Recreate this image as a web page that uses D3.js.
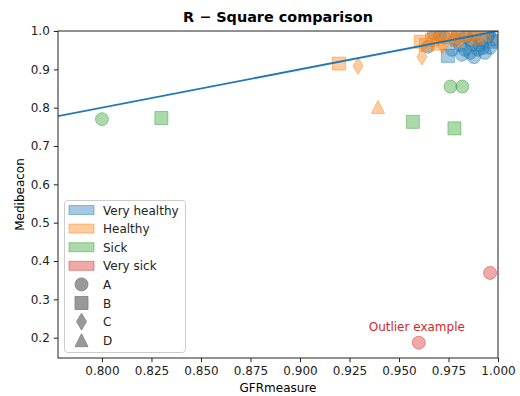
<!DOCTYPE html>
<html>
<head>
<meta charset="utf-8">
<script src="https://cdn.jsdelivr.net/npm/d3@7"></script>
<style>
  body { margin: 0; background: #fff; }
  svg text { font-family: "DejaVu Sans", sans-serif; }
</style>
</head>
<body>
<div id="chart"></div>
<script>
// categories
const groups = ['Very healthy', 'Healthy', 'Sick', 'Very sick'];
const groupColors = ['#1f77b4', '#ff7f0e', '#2ca02c', '#d62728'];
const shapes = ['A', 'B', 'C', 'D'];

// points per group: [GFRmeasure, Medibeacon, shape]
const veryHealthy = [
  [0.9646, 0.959, 'A'], [0.9707, 0.988, 'A'], [0.9783, 0.977, 'A'], [0.9808, 0.964, 'A'],
  [0.9833, 0.951, 'A'], [0.9859, 0.943, 'A'], [0.9869, 0.964, 'A'], [0.9899, 0.951, 'A'],
  [0.9919, 0.977, 'A'], [0.9934, 0.943, 'A'], [0.9960, 0.956, 'A'], [0.9975, 0.977, 'A'],
  [0.9798, 0.996, 'A'], [0.9884, 0.990, 'A'], [0.9838, 0.985, 'A'], [0.9909, 0.964, 'A'],
  [0.9949, 0.988, 'A'], [0.9818, 0.938, 'A'], [0.9859, 0.977, 'A'], [0.9924, 0.956, 'A'],
  [0.9879, 0.932, 'A'], [0.9768, 0.951, 'A'], [0.9732, 0.982, 'A'], [0.9677, 0.993, 'A'],
  [0.9747, 0.935, 'B'], [0.9980, 0.972, 'B'], [0.9965, 0.990, 'C']
];
const healthy = [
  [0.9197, 0.915, 'B'], [0.9610, 0.972, 'B'], [0.9636, 0.964, 'B'], [0.9667, 0.977, 'B'],
  [0.9697, 0.967, 'B'], [0.9722, 0.985, 'B'], [0.9758, 0.988, 'B'], [0.9793, 0.977, 'B'],
  [0.9823, 0.988, 'B'], [0.9859, 0.993, 'B'], [0.9894, 0.982, 'B'], [0.9929, 0.990, 'B'],
  [0.9293, 0.909, 'C'], [0.9616, 0.933, 'C'], [0.9720, 0.962, 'C'],
  [0.9394, 0.802, 'D'], [0.9780, 0.990, 'D'], [0.9680, 0.985, 'A']
];
const sick = [
  [0.800, 0.770, 'A'], [0.976, 0.855, 'A'], [0.982, 0.855, 'A'],
  [0.830, 0.773, 'B'], [0.957, 0.763, 'B'], [0.978, 0.746, 'B']
];
const verySick = [
  [0.960, 0.187, 'A'], [0.996, 0.369, 'A']
];
const seriesData = [veryHealthy, healthy, sick, verySick];

// reference line y = x
const refLineX = [0.7, 1.0];
const refLineY = [0.7, 1.0];

const xTicks = [0.800, 0.825, 0.850, 0.875, 0.900, 0.925, 0.950, 0.975, 1.000];
const yTicks = [0.2, 0.3, 0.4, 0.5, 0.6, 0.7, 0.8, 0.9, 1.0];
const annotation = { text: 'Outlier example', x: 0.959, y: 0.218 };

const width = 520, height = 396;
const margin = { top: 31, right: 22, bottom: 38, left: 58 };
const innerW = width - margin.left - margin.right;
const innerH = height - margin.top - margin.bottom;

const svg = d3.select('#chart').append('svg')
  .attr('width', width)
  .attr('height', height);

const x = d3.scaleLinear().domain([0.7778, 1.0]).range([0, innerW]);
const y = d3.scaleLinear().domain([0.147, 1.0]).range([innerH, 0]);

const g = svg.append('g').attr('transform', `translate(${margin.left},${margin.top})`);

g.append('clipPath').attr('id', 'clip')
  .append('rect').attr('width', innerW).attr('height', innerH);

// marker paths
function markerPath(shape) {
  if (shape === 'A') return d3.symbol(d3.symbolCircle, Math.PI * 6.5 * 6.5)();
  if (shape === 'B') return 'M-6.5,-6.5H6.5V6.5H-6.5Z';
  if (shape === 'C') return 'M0,-8.3L5,0L0,8.3L-5,0Z';
  return 'M0,-6.5L6.5,6.5L-6.5,6.5Z';
}

// points
const pts = g.append('g').attr('clip-path', 'url(#clip)');
seriesData.forEach((arr, i) => {
  pts.selectAll(null)
    .data(arr)
    .enter()
    .append('path')
    .attr('d', d => markerPath(d[2]))
    .attr('transform', d => `translate(${x(d[0])},${y(d[1])})`)
    .attr('fill', groupColors[i])
    .attr('fill-opacity', 0.4)
    .attr('stroke', groupColors[i])
    .attr('stroke-opacity', 0.45)
    .attr('stroke-width', 1);
});

// y = x line
g.append('path')
  .attr('clip-path', 'url(#clip)')
  .datum(d3.zip(refLineX, refLineY))
  .attr('d', d3.line().x(d => x(d[0])).y(d => y(d[1])))
  .attr('fill', 'none')
  .attr('stroke', '#1f77b4')
  .attr('stroke-width', 1.8);

// annotation
g.append('text')
  .attr('x', x(annotation.x))
  .attr('y', y(annotation.y))
  .attr('text-anchor', 'middle')
  .attr('fill', '#d62728')
  .attr('font-size', 12)
  .text(annotation.text);

// axes
const xAxis = g.append('g')
  .attr('transform', `translate(0,${innerH})`)
  .call(d3.axisBottom(x).tickValues(xTicks).tickFormat(d3.format('.3f')).tickSizeOuter(0).tickSize(4.2).tickPadding(4));
const yAxis = g.append('g')
  .call(d3.axisLeft(y).tickValues(yTicks).tickFormat(d3.format('.1f')).tickSizeOuter(0).tickSize(4.2).tickPadding(4));
[xAxis, yAxis].forEach(a => {
  a.select('.domain').remove();
  a.selectAll('text').attr('font-size', 12).attr('fill', '#222').attr('font-family', '"DejaVu Sans", sans-serif');
  a.selectAll('line').attr('stroke', '#222').attr('stroke-width', 1);
});

// frame
g.append('rect')
  .attr('width', innerW).attr('height', innerH)
  .attr('fill', 'none').attr('stroke', '#222').attr('stroke-width', 1);

// labels
svg.append('text')
  .attr('x', margin.left + innerW / 2).attr('y', 22)
  .attr('text-anchor', 'middle').attr('font-size', 14.4).attr('font-weight', 'bold')
  .text('R \u2212 Square comparison');
svg.append('text')
  .attr('x', margin.left + innerW / 2).attr('y', 392)
  .attr('text-anchor', 'middle').attr('font-size', 12)
  .text('GFRmeasure');
svg.append('text')
  .attr('transform', `translate(23.5,${margin.top + innerH / 2}) rotate(-90)`)
  .attr('text-anchor', 'middle').attr('font-size', 12)
  .text('Medibeacon');

// legend
const legend = svg.append('g').attr('transform', 'translate(64.5,200.5)');
legend.append('rect')
  .attr('width', 121).attr('height', 152).attr('rx', 3)
  .attr('fill', '#fff').attr('fill-opacity', 0.8)
  .attr('stroke', '#ccc').attr('stroke-width', 1);
const rowH = 18.6;
groups.forEach((name, i) => {
  const cy = 9.5 + i * rowH;
  legend.append('rect')
    .attr('x', 4.5).attr('y', cy - 4.5).attr('width', 25).attr('height', 9)
    .attr('fill', groupColors[i]).attr('fill-opacity', 0.4)
    .attr('stroke', groupColors[i]).attr('stroke-opacity', 0.45);
  legend.append('text')
    .attr('x', 38.5).attr('y', cy + 4.5).attr('font-size', 12).attr('fill', '#222')
    .text(name);
});
shapes.forEach((name, i) => {
  const cy = 9.5 + (i + groups.length) * rowH;
  legend.append('path')
    .attr('d', markerPath(name))
    .attr('transform', `translate(17,${cy})`)
    .attr('fill', '#808080').attr('fill-opacity', 0.8)
    .attr('stroke', '#808080').attr('stroke-opacity', 0.8);
  legend.append('text')
    .attr('x', 38.5).attr('y', cy + 4.5).attr('font-size', 12).attr('fill', '#222')
    .text(name);
});
</script>
</body>
</html>
